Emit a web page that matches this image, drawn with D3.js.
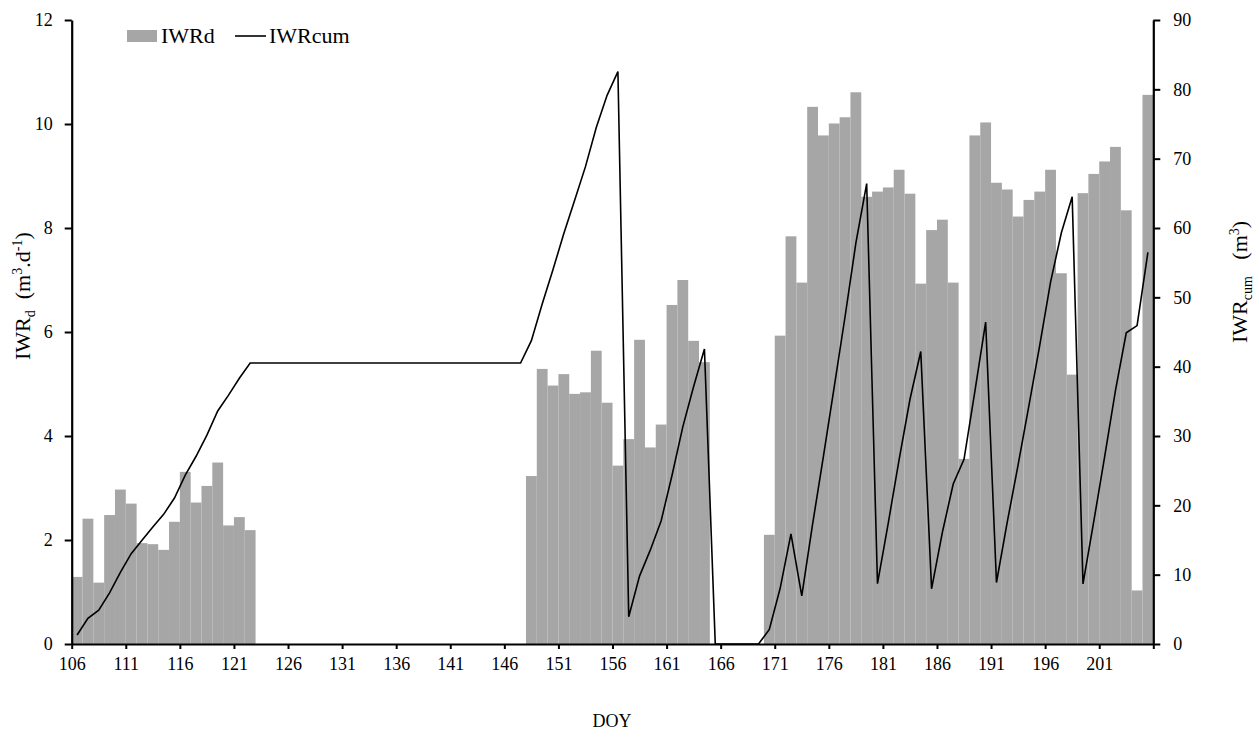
<!DOCTYPE html>
<html>
<head>
<meta charset="utf-8">
<script src="https://cdn.jsdelivr.net/npm/d3@7"></script>
<style>
	body { margin: 0; background: #fff; }
	text { font-family: "Liberation Serif", "Times New Roman", serif; fill: #000; }
</style>
</head>
<body>
<div id="chart"></div>
<script>
// day of year, one bar per day
let doy = d3.range(106, 206);

// daily irrigation water requirement (m3/d)
let iwrDaily = [
	1.29, 2.41, 1.18, 2.48, 2.97, 2.70, 1.94, 1.92, 1.81, 2.35, 3.31, 2.72, 3.04, 3.49, 2.28, 2.44, 2.19,
	0, 0, 0, 0, 0, 0, 0, 0, 0, 0, 0, 0, 0, 0, 0, 0, 0, 0, 0, 0, 0, 0, 0, 0, 0,
	3.23, 5.29, 4.97, 5.19, 4.81, 4.84, 5.64, 4.64, 3.43, 3.94, 5.85, 3.78, 4.22, 6.52, 7.00, 5.83, 5.42,
	0, 0, 0, 0, 0,
	2.10, 5.93, 7.84, 6.95, 10.33, 9.78, 10.01, 10.13, 10.61, 8.60, 8.70, 8.78, 9.12, 8.66, 6.93, 7.96,
	8.16, 6.95, 3.56, 9.78, 10.03, 8.87, 8.74, 8.22, 8.54, 8.70, 9.12, 7.13, 5.18, 8.67, 9.04, 9.28,
	9.56, 8.34, 1.03, 10.56
];

// cumulative requirement (m3)
let iwrCum = [
	1.29, 3.70, 4.88, 7.36, 10.33, 13.03, 14.97, 16.89, 18.70, 21.05, 24.36, 27.08, 30.12, 33.61, 35.89, 38.33, 40.52,
	40.52, 40.52, 40.52, 40.52, 40.52, 40.52, 40.52, 40.52, 40.52, 40.52, 40.52, 40.52, 40.52,
	40.52, 40.52, 40.52, 40.52, 40.52, 40.52, 40.52, 40.52, 40.52, 40.52, 40.52, 40.52,
	43.75, 49.04, 54.01, 59.20, 64.01, 68.85, 74.49, 79.13, 82.56, 3.94, 9.79, 13.57, 17.79, 24.31, 31.31, 37.14, 42.56,
	0, 0, 0, 0, 0,
	2.10, 8.03, 15.87, 6.95, 17.28, 27.06, 37.07, 47.20, 57.81, 66.41, 8.70, 17.48, 26.60, 35.26, 42.19, 7.96,
	16.12, 23.07, 26.63, 36.41, 46.44, 8.87, 17.61, 25.83, 34.37, 43.07, 52.19, 59.32, 64.50, 8.67, 17.71, 26.99,
	36.55, 44.89, 45.92, 56.48
];

let xTicks = d3.range(106, 207, 5);
let leftTicks = [0, 2, 4, 6, 8, 10, 12];
let rightTicks = [0, 10, 20, 30, 40, 50, 60, 70, 80, 90];

function drawChart(idDiv){
	let width = 1259, height = 737;
	let left = 71.7, right = 1153.3, top = 20, bottom = 644;
	let barColor = "#a6a6a6";

	let svg = d3.select(idDiv).append("svg")
		.attr("width", width)
		.attr("height", height);

	let x = d3.scaleLinear().domain([106, 206]).range([left, right]);
	let yL = d3.scaleLinear().domain([0, 12]).range([bottom, top]);
	let yR = d3.scaleLinear().domain([0, 90]).range([bottom, top]);

	let data = doy.map(function(d, i) { return {day: d, daily: iwrDaily[i], cum: iwrCum[i]}; });

	svg.selectAll(".bar")
		.data(data.filter(function(d) { return d.daily > 0; }))
		.enter().append("rect")
		.attr("class", "bar")
		.attr("x", function(d) { return x(d.day); })
		.attr("width", function(d) { return x(d.day + 1) - x(d.day); })
		.attr("y", function(d) { return yL(d.daily); })
		.attr("height", function(d) { return yL(0) - yL(d.daily); })
		.style("fill", barColor);

	let line = d3.line()
		.x(function(d) { return x(d.day + 0.5); })
		.y(function(d) { return yR(d.cum); });

	svg.append("path")
		.datum(data)
		.attr("d", line)
		.style("fill", "none")
		.style("stroke", "#000")
		.style("stroke-width", 1.6)
		.style("stroke-linejoin", "miter");

	// axes
	let axisLeft = svg.append("g")
		.attr("transform", "translate(" + left + ",0)")
		.call(d3.axisLeft(yL).tickValues(leftTicks).tickSize(7).tickSizeOuter(0).tickPadding(12));

	let axisRight = svg.append("g")
		.attr("transform", "translate(" + right + ",0)")
		.call(d3.axisRight(yR).tickValues(rightTicks).tickSize(7).tickSizeOuter(0).tickPadding(13));

	let axisBottom = svg.append("g")
		.attr("transform", "translate(0," + bottom + ")")
		.call(d3.axisBottom(x).tickValues(xTicks).tickSize(5).tickSizeOuter(0).tickPadding(8)
			.tickFormat(function(d) { return d < 206 ? d : ""; }));

	[axisLeft, axisRight, axisBottom].forEach(function(g) {
		g.select(".domain").style("stroke-width", 2.2);
		g.selectAll(".tick line").style("stroke-width", 2);
		g.selectAll(".tick text")
			.style("font-family", "'Liberation Serif', serif")
			.style("font-size", "18px");
	});

	// axis titles
	let leftTitle = svg.append("text")
		.attr("transform", "translate(30,360) rotate(-90)")
		.style("font-size", "22px");
	leftTitle.append("tspan").text("IWR");
	leftTitle.append("tspan").attr("dy", 5).style("font-size", "14px").text("d");
	leftTitle.append("tspan").attr("dy", -5).text("\u00a0\u00a0(m");
	leftTitle.append("tspan").attr("dy", -8).style("font-size", "14px").text("3");
	leftTitle.append("tspan").attr("dy", 8).text(".d");
	leftTitle.append("tspan").attr("dy", -8).style("font-size", "14px").text("-1");
	leftTitle.append("tspan").attr("dy", 8).text(")");

	let rightTitle = svg.append("text")
		.attr("transform", "translate(1247,343) rotate(-90)")
		.style("font-size", "22px");
	rightTitle.append("tspan").text("IWR");
	rightTitle.append("tspan").attr("dy", 5).style("font-size", "14px").text("cum");
	rightTitle.append("tspan").attr("dy", -5).text("\u00a0\u00a0\u00a0(m");
	rightTitle.append("tspan").attr("dy", -8).style("font-size", "14px").text("3");
	rightTitle.append("tspan").attr("dy", 8).text(")");

	svg.append("text")
		.attr("x", 612)
		.attr("y", 727)
		.style("text-anchor", "middle")
		.style("font-size", "18px")
		.text("DOY");

	// legend
	let legend = svg.append("g");
	legend.append("rect")
		.attr("x", 127).attr("y", 30)
		.attr("width", 30).attr("height", 12)
		.style("fill", barColor);
	legend.append("text")
		.attr("x", 161).attr("y", 43)
		.style("font-size", "22px")
		.text("IWRd");
	legend.append("line")
		.attr("x1", 235).attr("x2", 266)
		.attr("y1", 36).attr("y2", 36)
		.style("stroke", "#000")
		.style("stroke-width", 1.6);
	legend.append("text")
		.attr("x", 269).attr("y", 43)
		.style("font-size", "22px")
		.text("IWRcum");
}

drawChart("#chart");
</script>
</body>
</html>
